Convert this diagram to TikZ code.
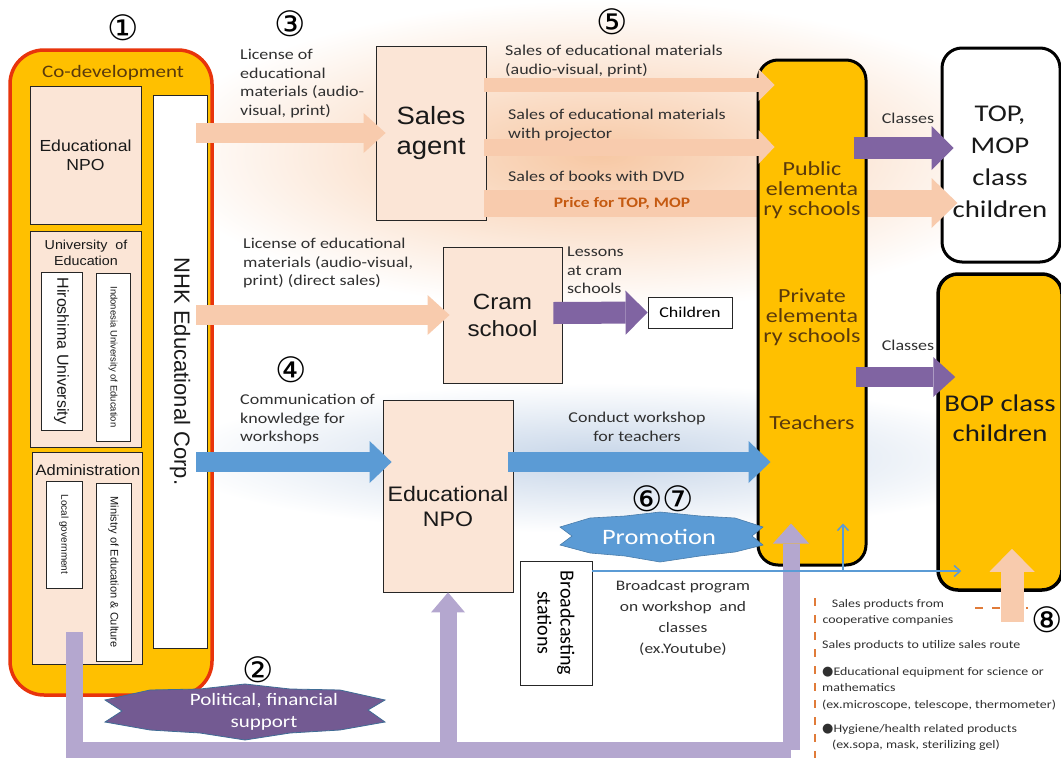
\documentclass[tikz,border=0pt]{standalone}
\usepackage{fontspec}
\setmainfont{Carlito}[FakeStretch=1.2]
\newfontfamily\carlitoplain{Carlito}
\newfontfamily\arialfont{Liberation Sans}[FakeStretch=1.1]
\newfontfamily\arialplain{Liberation Sans}
\newfontfamily\circfont{DejaVu Sans}
\usetikzlibrary{arrows.meta,calc}

\definecolor{bizyellow}{HTML}{FFC000}
\definecolor{bizred}{HTML}{E8340C}
\definecolor{npopink}{HTML}{FBE5D6}
\definecolor{peach}{HTML}{F8CBAD}
\definecolor{peachglow}{HTML}{F7C8A4}
\definecolor{bizblue}{HTML}{5B9BD5}
\definecolor{blueglow}{HTML}{C6D5E8}
\definecolor{bizpurple}{HTML}{8064A2}
\definecolor{lavender}{HTML}{B4A7CF}
\definecolor{schoolbrown}{HTML}{5A3A0C}
\definecolor{priceorange}{HTML}{C55A11}
\definecolor{dashorange}{HTML}{E07B39}
\definecolor{labelgray}{HTML}{303030}

\newcommand{\circnum}[1]{{\circfont #1}}

\begin{document}
\begin{tikzpicture}[x=1pt,y=-1pt,
    pinkbox/.style={draw=black!85,fill=npopink,line width=0.8pt,inner sep=1pt,align=center},
    whitebox/.style={draw=black!85,fill=white,line width=0.8pt,inner sep=1pt,align=center},
    yellowbox/.style={draw=black,fill=bizyellow,line width=3pt,rounded corners=20pt},
    arialtxt/.style 2 args={font=\arialfont\fontsize{#1}{#2}\selectfont,text=black!90},
    rottxt/.style 2 args={font=\arialplain\fontsize{#1}{#2}\selectfont,text=black!90,rotate=-90},
    lbl/.style={font=\fontsize{15}{18.5}\selectfont,text=labelgray,align=left,inner sep=0pt},
    schooltxt/.style={font=\fontsize{20}{20}\selectfont,text=schoolbrown,align=center},
    kidtxt/.style={font=\fontsize{24}{32}\selectfont,text=black!90,align=center},
    circ/.style={font=\circfont\fontsize{35}{35}\selectfont,inner sep=0pt},
    smalltxt/.style={font=\fontsize{11.6}{14}\selectfont,text=labelgray,anchor=west,inner sep=0pt},
    peacharr/.style={draw=peach,line width=#1,-{Triangle[length=22pt,width=40pt,line width=0pt]}},
    bluearr/.style={draw=bizblue,line width=20pt,-{Triangle[length=22pt,width=42pt,line width=0pt]}},
    purplearr/.style={draw=bizpurple,line width=22pt,-{Triangle[length=22pt,width=44pt,line width=0pt]}},
    lavline/.style={draw=lavender,line width=17pt,line join=miter},
    thinblue/.style={draw=bizblue,line width=1.5pt,-{Straight Barb[length=6pt,width=11pt]}},
    dashbox/.style={draw=dashorange,line width=2.5pt,dash pattern=on 8pt off 9pt}
  ]
  \useasboundingbox (0,0) rectangle (1061,758);

  % soft backgrounds
  \shade[inner color=peachglow,outer color=white] (600,155) ellipse [x radius=440, y radius=155];
  \shade[inner color=blueglow,outer color=white] (600,458) ellipse [x radius=430, y radius=75];

  % circled numbers
  \node[circ] (n1) at (123,28) {\circnum{①}};
  \node[circ] (n3) at (290,24) {\circnum{③}};
  \node[circ] (n5) at (612,22) {\circnum{⑤}};
  \node[circ] (n4) at (291,370) {\circnum{④}};
  \node[circ] (n2) at (258,670) {\circnum{②}};
  \node[circ] (n67) at (663,499) {\circnum{⑥⑦}};
  \node[circ] (n8) at (1047,620) {\circnum{⑧}};

  % co-development block
  \node[draw=bizred,fill=bizyellow,line width=3.5pt,rounded corners=34pt,
    minimum width=202pt,minimum height=645pt] (codev) at (111,372.5) {};
  \node[font=\fontsize{17.5}{17.5}\selectfont,text=schoolbrown] (codevlbl) at (113,73) {Co-development};
  \node[pinkbox,arialtxt={16}{19},minimum width=111pt,minimum height=138pt] (npoL) at (85.5,155) {Educational\\NPO};
  \node[pinkbox,minimum width=111pt,minimum height=216pt] (univ) at (85.5,339) {};
  \node[arialtxt={13}{16},align=center] (univlbl) at (86,253) {University\ \ of\\Education};
  \node[whitebox,rottxt={16}{19},minimum width=158pt,minimum height=41pt] (hiro) at (61.5,351) {Hiroshima University};
  \node[whitebox,rottxt={9.5}{11},minimum width=168pt,minimum height=34pt] (indo) at (113,357) {Indonesia University of Education};
  \node[pinkbox,minimum width=110pt,minimum height=212pt] (adm) at (87,558) {};
  \node[arialtxt={15}{18}] (admlbl) at (88,470) {Administration};
  \node[whitebox,rottxt={10}{12},minimum width=107pt,minimum height=36pt] (localgov) at (64,534.5) {Local government};
  \node[whitebox,rottxt={11}{13},minimum width=178pt,minimum height=35pt] (ministry) at (113.5,572) {Ministry of Education \& Culture};
  \node[whitebox,rottxt={22}{26},minimum width=553pt,minimum height=54pt] (nhk) at (180,371.5) {NHK Educational Corp.};

  % middle boxes
  \node[pinkbox,arialtxt={25}{30},minimum width=110pt,minimum height=174pt] (sales) at (431,133) {Sales\\agent};
  \node[pinkbox,arialtxt={22}{27},minimum width=119pt,minimum height=136pt] (cram) at (502.5,315) {Cram\\school};
  \node[pinkbox,minimum width=130pt,minimum height=192pt] (npo) at (448,496) {};
  \node[arialtxt={21}{25},align=center] (npolbl) at (448,506) {Educational\\NPO};
  \node[whitebox,font=\carlitoplain\fontsize{20}{23}\selectfont,rotate=-90,minimum width=124pt,minimum height=72pt] (bc) at (556,623) {Broadcasting\\stations};
  \node[whitebox,font=\fontsize{15}{16}\selectfont,minimum width=84pt,minimum height=31pt] (kids) at (690,312.5) {Children};

  % support line
  \draw[lavline] ($(adm.south west)+(43,-32)$) |- ($(npo.south)+(343,158)$) coordinate (lavR);
  \draw[lavline,-{Triangle[length=20pt,width=34pt,line width=0pt]}] (npo.south |- lavR) -- (npo.south);

  % children boxes and sales to TOP, MOP children
  \node[draw=black,fill=white,line width=3pt,rounded corners=20pt,minimum width=118pt,minimum height=214pt] (top) at (1001,155) {};
  \node[kidtxt] (toplbl) at (1000,162) {TOP,\\MOP\\class\\children};
  \draw[peacharr=27pt,-{Triangle[length=26pt,width=50pt,line width=0pt]}] ($(sales.east)+(-2,70)$) -- ($(top.west |- sales.east)+(17,70)$);
  \node[yellowbox,line width=3.5pt,minimum width=124pt,minimum height=316pt] (bop) at (1000,432) {};
  \node[kidtxt,font=\fontsize{24}{30}\selectfont] (boplbl) at (1000,418) {BOP class\\children};

  % schools
  \node[yellowbox,minimum width=108pt,minimum height=505pt] (pubsch) at (812,312.5) {};
  \node[schooltxt] (pub) at (812,190) {Public\\elementa\\ry schools};
  \node[schooltxt] (priv) at (812,317) {Private\\elementa\\ry schools};
  \node[schooltxt] (teach) at (812,423) {Teachers};

  % arrows
  \draw[lavline,-{Triangle[length=20pt,width=36pt,line width=0pt]}] (lavR) -- ($(pubsch.south)+(-21,-43)$);
  \draw[peacharr=20pt] ($(nhk.north |- sales.west)+(-11,0)$) -- ($(sales.west)+(10,0)$);
  \draw[peacharr=20pt] ($(nhk.north |- cram.west)+(-11,0)$) -- ($(cram.west)+(7,0)$);
  \draw[bluearr] ($(nhk.north |- npo.west)+(-11,-34)$) -- ($(npo.west)+(9,-34)$);
  \draw[bluearr] ($(npo.east)+(-5,-34)$) -- ($(pubsch.west |- npo.east)+(14,-34)$);
  \draw[peacharr=14pt,-{Triangle[length=16pt,width=32pt,line width=0pt]}] ($(sales.east)+(-2,-48)$) -- ($(pubsch.west |- sales.east)+(18,-48)$);
  \draw[peacharr=17pt,-{Triangle[length=16pt,width=34pt,line width=0pt]}] ($(sales.east)+(-2,14)$) -- ($(pubsch.west |- sales.east)+(18,14)$);
  \draw[purplearr] ($(pubsch.east |- top.west)+(-14,-7)$) -- ($(top.west)+(13,-7)$);
  \draw[purplearr,line width=20pt,-{Triangle[length=22pt,width=40pt,line width=0pt]}] ($(pubsch.east)+(-12,64.5)$) -- ($(bop.west |- pubsch.east)+(19,64.5)$);
  \draw[purplearr] ($(cram.east)+(-9,-2)$) -- (kids.west);
  \draw[thinblue] ($(bc.north)+(0,-52)$) coordinate (tv) -- ($(bop.west |- tv)+(25,0)$);
  \draw[thinblue] ($(pubsch.south |- tv)+(31,0)$) -- ($(pubsch.south)+(31,-43)$);

  % banners
  \filldraw[fill=bizblue,draw=bizblue!80!black,line width=0.6pt]
    (560,527) -- (590,518) -- (625,516) -- (660,512) -- (700,516) -- (735,518) -- (763,527)
    -- (752,536) -- (763,545) -- (735,552) -- (700,556) -- (660,562) -- (625,556) -- (590,553)
    -- (560,545) -- (572,536) -- cycle;
  \node[font=\fontsize{22}{22}\selectfont,text=white] (promo) at (659,537) {Promotion};
  \filldraw[fill=bizpurple!90!black,draw=bizblue!70!black,line width=0.8pt]
    (105,700) -- (150,690) -- (200,689) -- (245,684) -- (290,689) -- (340,690) -- (385,700)
    -- (368,710) -- (385,722) -- (340,730) -- (290,733) -- (245,740) -- (200,733) -- (150,730)
    -- (105,722) -- (122,711) -- cycle;
  \node[font=\fontsize{17.5}{22}\selectfont,text=white,align=center] (support) at (264,712) {Political, financial\\support};

  % labels
  \node[lbl,anchor=north west] (lic1) at (240,49) {License of\\educational\\materials (audio-\\visual, print)};
  \node[lbl,anchor=north west] (lic2) at (243,238) {License of educational\\materials (audio-visual,\\print) (direct sales)};
  \node[lbl,anchor=north west] (comm) at (240,394) {Communication of\\knowledge for\\workshops};
  \node[lbl,align=center] (conduct) at (637,427) {Conduct workshop\\for teachers};
  \node[lbl,anchor=north west] (s1) at (505,45) {Sales of educational materials\\(audio-visual, print)};
  \node[lbl,anchor=north west] (s2) at (508,109) {Sales of educational materials\\with projector};
  \node[lbl,anchor=north west] (s3) at (508,171) {Sales of books with DVD};
  \node[font=\bfseries\fontsize{14.5}{14.5}\selectfont,text=priceorange] (price) at (622,203) {Price for TOP, MOP};
  \node[lbl,anchor=north west] (lessons) at (567,247) {Lessons\\at cram\\schools};
  \node[lbl] (classes1) at (908,118) {Classes};
  \node[lbl] (classes2) at (908,345) {Classes};
  \node[lbl,align=center,font=\fontsize{14.5}{21}\selectfont] (bcprog) at (683,618) {Broadcast program\\on workshop\ \ and\\classes\\(ex.Youtube)};

  % sales products
  \draw[dashbox] (815,598) -- (815,758);
  \draw[dashbox] (975,608) -- (1028,608);
  \draw[peacharr=23pt,-{Triangle[length=23pt,width=45pt,line width=0pt]}] ($(bop.south)+(12,30)$) -- ($(bop.south)+(12,-43)$);
  \node[smalltxt,anchor=center,align=center,font=\fontsize{11.6}{16}\selectfont] (coop) at (888,612) {Sales products from\\cooperative companies};
  \node[smalltxt] (route) at (822,645) {Sales products to utilize sales route};
  \node[smalltxt] (equip1) at (822,672) {{\circfont\fontsize{13}{13}\selectfont ●}Educational equipment for science or};
  \node[smalltxt] (equip2) at (822,688) {mathematics};
  \node[smalltxt] (equip3) at (822,705) {(ex.microscope, telescope, thermometer)};
  \node[smalltxt] (hyg1) at (822,729) {{\circfont\fontsize{13}{13}\selectfont ●}Hygiene/health related products};
  \node[smalltxt] (hyg2) at (832,745) {(ex.sopa, mask, sterilizing gel)};
\end{tikzpicture}
\end{document}
